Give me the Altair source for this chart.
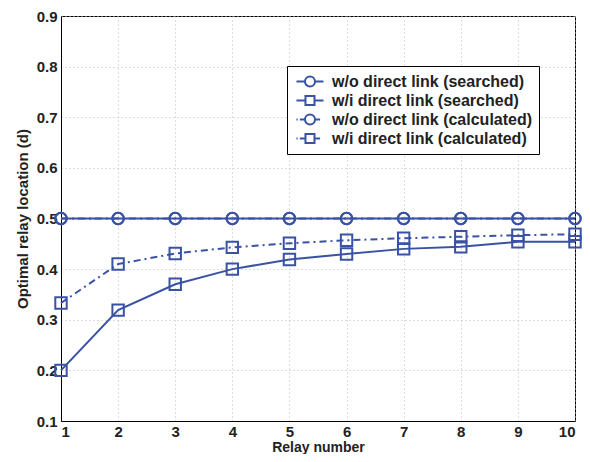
import altair as alt
import pandas as pd

relays = [1, 2, 3, 4, 5, 6, 7, 8, 9, 10]
wo_searched = [0.5, 0.5, 0.5, 0.5, 0.5, 0.5, 0.5, 0.5, 0.5, 0.5]
wi_searched = [0.2, 0.319, 0.370, 0.400, 0.419, 0.430, 0.440, 0.444, 0.454, 0.454]
wo_calculated = [0.5, 0.5, 0.5, 0.5, 0.5, 0.5, 0.5, 0.5, 0.5, 0.5]
wi_calculated = [0.333, 0.410, 0.431, 0.443, 0.451, 0.457, 0.461, 0.464, 0.467, 0.469]
y_ticks = [0.1, 0.2, 0.3, 0.4, 0.5, 0.6, 0.7, 0.8, 0.9]

series_names = [
    "w/o direct link (searched)",
    "w/i direct link (searched)",
    "w/o direct link (calculated)",
    "w/i direct link (calculated)",
]
series_values = [wo_searched, wi_searched, wo_calculated, wi_calculated]
series_marker = ["circle", "square", "circle", "square"]
series_kind = ["searched", "searched", "calculated", "calculated"]

rows = []
for name, vals, mk, kind in zip(series_names, series_values, series_marker, series_kind):
    for r, v in zip(relays, vals):
        rows.append({"relay": r, "value": v, "series": name, "marker": mk, "kind": kind})
df = pd.DataFrame(rows)

BLUE = "#3a52a5"


# legend glyphs (line + marker), in symbol units; shifted right so labels sit further away
def glyph(marker, dashed, s=0.88, half=1.59, r=0.59):
    def f(v):
        return f"{v + s:.3f}"
    if dashed:
        segs = f"M{f(-half)},0H{f(-half + 0.14)}M{f(-half + 0.4)},0H{f(-r)}M{f(r)},0H{f(half - 0.4)}"
    else:
        segs = f"M{f(-half)},0H{f(-r)}M{f(r)},0H{f(half)}"
    if marker == "circle":
        m = f"M{f(-r)},0A{r},{r},0,1,1,{f(r)},0A{r},{r},0,1,1,{f(-r)},0Z"
    else:
        q = r * 0.9
        m = f"M{f(-q)},{-q:.3f}H{f(q)}V{q:.3f}H{f(-q)}Z"
    return segs + m


legend_paths = [glyph(m, k == "calculated") for m, k in zip(series_marker, series_kind)]

x_enc = alt.X(
    "relay:Q",
    scale=alt.Scale(domain=[1, 10], nice=False),
    axis=alt.Axis(title="Relay number", values=relays, format="d"),
)
y_enc = alt.Y(
    "value:Q",
    scale=alt.Scale(domain=[0.1, 0.9], nice=False, zero=False),
    axis=alt.Axis(title="Optimal relay location (d)", values=y_ticks, format=".1f"),
)

base = alt.Chart(df)

legend_layer = base.mark_point(
    filled=False, color=BLUE, strokeWidth=2, opacity=0, size=1
).encode(
    x=x_enc,
    y=y_enc,
    shape=alt.Shape(
        "series:N",
        scale=alt.Scale(domain=series_names, range=legend_paths),
        legend=alt.Legend(
            title=None,
            orient="none",
            legendX=226,
            legendY=50,
            symbolSize=289,
            symbolStrokeWidth=2,
            symbolStrokeColor=BLUE,
            symbolFillColor="transparent",
            symbolOpacity=1,
            labelFont="Liberation Sans",
            labelFontWeight="bold",
            labelFontSize=16,
            labelColor="#222222",
            labelLimit=400,
            rowPadding=0,
            labelOffset=20,
            strokeColor="#000000",
            fillColor="#ffffff",
            padding=6,
            offset=0,
        ),
    ),
)

solid_lines = base.transform_filter(alt.datum.kind == "searched").mark_line(
    color=BLUE, strokeWidth=2
).encode(x=x_enc, y=y_enc, detail="series:N")

dash_lines = base.transform_filter(alt.datum.kind == "calculated").mark_line(
    color=BLUE, strokeWidth=2, strokeDash=[7, 4, 2, 4]
).encode(x=x_enc, y=y_enc, detail="series:N")

points = base.mark_point(filled=False, color=BLUE, strokeWidth=2, size=130, opacity=1).encode(
    x=x_enc,
    y=y_enc,
    shape=alt.Shape("marker:N", scale=None, legend=None),
)

chart = alt.layer(legend_layer, solid_lines, dash_lines, points).resolve_scale(
    shape="independent"
).resolve_legend(
    shape="independent"
).properties(
    width=514,
    height=405,
    autosize=alt.AutoSizeParams(type="none"),
    padding={"left": 53, "top": 8, "right": 7, "bottom": 33},
).configure_view(
    stroke="#000000", strokeWidth=1
).configure_axis(
    grid=True,
    gridColor="#bbbbbb",
    gridDash=[1, 3],
    gridWidth=1,
    domainColor="#000000",
    ticks=False,
    labelFont="Liberation Sans",
    labelFontWeight="bold",
    labelFontSize=15,
    labelColor="#222222",
    titleFont="Liberation Sans",
    titleFontWeight="bold",
    titleFontSize=15,
    titleColor="#222222",
).configure_axisX(labelPadding=3, titlePadding=1, titleFontSize=14).configure_axisY(
    labelPadding=4, titlePadding=6
)

chart.save("out.html", embed_options={"renderer": "svg", "actions": False})
